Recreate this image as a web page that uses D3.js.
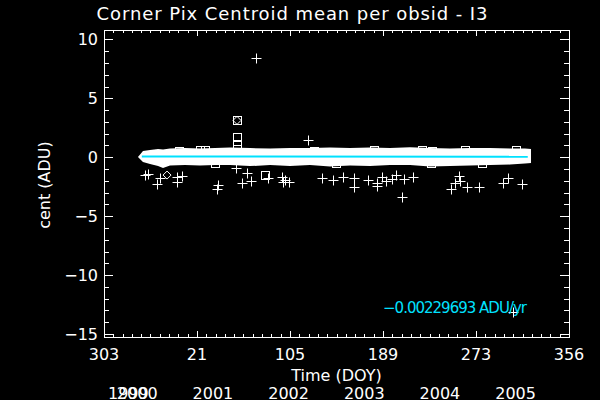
<!DOCTYPE html>
<html>
<head>
<meta charset="utf-8">
<script src="https://cdn.jsdelivr.net/npm/d3@7"></script>
<style>
  body { margin: 0; background: #000; }
  text { font-family: "DejaVu Sans", sans-serif; fill: #fff; }
</style>
</head>
<body>
<div id="chart"></div>
<script>
var width = 600, height = 400;

// axis setup (time in fractional years, labelled as DOY)
var timeDomain = [1999.830, 2005.975];
var centDomain = [-15.25, 10.8];
var doyLabels = ["303", "21", "105", "189", "273", "356"];
var yearLabels = [1999, 2000, 2001, 2002, 2003, 2004, 2005];
var yTickValues = [-15, -10, -5, 0, 5, 10];

// dense band of per-obsid means: upper / lower envelope
var bandTime = [2000.279, 2000.345, 2000.438, 2000.544, 2000.610, 2000.702, 2000.900, 2001.099, 2001.297,
  2001.495, 2001.759, 2002.024, 2002.288, 2002.552, 2002.817, 2003.081, 2003.345, 2003.610, 2003.874,
  2004.138, 2004.402, 2004.667, 2004.931, 2005.195, 2005.393, 2005.473];
var bandHi = [0.02, 0.53, 0.61, 0.70, 0.65, 0.74, 0.78, 0.74, 0.78, 0.82, 0.78, 0.74, 0.78, 0.78, 0.82,
  0.78, 0.82, 0.78, 0.86, 0.78, 0.74, 0.78, 0.78, 0.74, 0.74, 0.70];
var bandLo = [0.02, -0.41, -0.58, -0.75, -0.92, -0.70, -0.66, -0.70, -0.66, -0.66, -0.75, -0.66, -0.75,
  -0.66, -0.79, -0.70, -0.75, -0.66, -0.66, -0.79, -0.75, -0.70, -0.66, -0.62, -0.53, -0.49];

// hollow boxes poking out of the band edges
var edgeTime = [2000.82, 2001.10, 2001.17, 2002.60, 2003.40, 2004.03, 2004.17, 2004.60, 2005.28];
var edgeVal = [0.55, 0.60, 0.62, 0.55, 0.58, 0.62, 0.57, 0.60, 0.58];
var edgeLoTime = [2004.15, 2004.82, 2001.30, 2002.90];
var edgeLoVal = [-0.48, -0.52, -0.50, -0.50];

// outliers drawn as '+'
var plusTime = [2000.372, 2000.411, 2000.570, 2000.530, 2000.795, 2000.861, 2000.800, 2001.337, 2001.323,
  2001.574, 2001.720, 2001.654, 2001.773, 2001.997, 2002.182, 2002.222, 2002.275, 2002.195, 2002.526,
  2002.711, 2002.856, 2002.988, 2003.134, 2003.134, 2003.319, 2003.438, 2003.438, 2003.504, 2003.557,
  2003.636, 2003.689, 2003.795, 2003.914, 2003.768, 2004.416, 2004.469, 2004.522, 2004.535, 2004.627,
  2004.786, 2005.103, 2005.169, 2005.354, 2005.235, 2001.839];
var plusVal = [-1.51, -1.42, -1.76, -2.27, -1.68, -1.59, -2.10, -2.36, -2.70,
  -0.94, -1.34, -2.19, -2.02, -1.76, -1.68, -1.93, -2.10, -2.10, 1.46,
  -1.76, -1.93, -1.68, -1.76, -2.53, -1.93, -2.19, -2.44, -1.68, -2.02,
  -1.85, -1.51, -1.85, -1.68, -3.38, -2.70, -2.19, -1.59, -2.02, -2.53,
  -2.53, -2.19, -1.76, -2.27, -13.13, 8.41];

// boxes and diamonds
var boxTime = [2001.588, 2001.588, 2001.588, 2001.588, 2001.958];
var boxVal = [3.13, 1.69, 1.12, 0.70, -1.51];
var diamondTime = [2000.663, 2001.588];
var diamondVal = [-1.51, 3.13];

// linear fit
var fitStart = 2000.33, fitEnd = 2005.43;
var fitIntercept = 0.065, fitSlope = -0.00229693;

var margin = {left: 104, right: 31, top: 30, bottom: 63};

var svg = d3.select("#chart").append("svg")
  .attr("width", width)
  .attr("height", height)
  .style("background", "#000");

var x = d3.scaleLinear().domain(timeDomain).range([margin.left, width - margin.right]);
var y = d3.scaleLinear().domain(centDomain).range([height - margin.bottom, margin.top]);

var x0 = x.range()[0], x1 = x.range()[1];
var yTop = y.range()[1], yBot = y.range()[0];

// band
var area = d3.area()
  .x(function(d, i) { return x(bandTime[i]); })
  .y0(function(d, i) { return y(bandLo[i]); })
  .y1(function(d, i) { return y(bandHi[i]); });

svg.append("path")
  .datum(bandTime)
  .attr("d", area)
  .attr("fill", "#fff");

var marks = svg.append("g")
  .attr("fill", "none")
  .attr("stroke", "#fff")
  .attr("stroke-width", 1);

function box(t, v) {
  marks.append("rect")
    .attr("x", Math.round(x(t)) - 4 + 0.5)
    .attr("y", Math.round(y(v)) - 4 + 0.5)
    .attr("width", 8).attr("height", 8);
}
edgeTime.forEach(function(t, i) { box(t, edgeVal[i]); });
edgeLoTime.forEach(function(t, i) { box(t, edgeLoVal[i]); });
boxTime.forEach(function(t, i) { box(t, boxVal[i]); });

diamondTime.forEach(function(t, i) {
  var cx = x(t), cy = y(diamondVal[i]);
  marks.append("path")
    .attr("d", "M" + (cx - 4) + "," + cy + "L" + cx + "," + (cy - 4) + "L" + (cx + 4) + "," + cy +
      "L" + cx + "," + (cy + 4) + "Z");
});

plusTime.forEach(function(t, i) {
  var cx = Math.round(x(t)) + 0.5, cy = Math.round(y(plusVal[i])) + 0.5;
  marks.append("path")
    .attr("d", "M" + (cx - 5) + "," + cy + "H" + (cx + 5) + "M" + cx + "," + (cy - 5) + "V" + (cy + 5));
});

// fit line
svg.append("line")
  .attr("x1", x(fitStart)).attr("x2", x(fitEnd))
  .attr("y1", y(fitIntercept + fitSlope * (fitStart - 2000)))
  .attr("y2", y(fitIntercept + fitSlope * (fitEnd - 2000)))
  .attr("stroke", "#00e1ff")
  .attr("stroke-width", 2);

// frame and ticks (IDL style, inward)
var axes = svg.append("g")
  .attr("stroke", "#fff")
  .attr("shape-rendering", "crispEdges");

axes.append("rect")
  .attr("x", x0 + 0.5).attr("y", yTop + 0.5)
  .attr("width", x1 - x0).attr("height", yBot - yTop)
  .attr("fill", "none");

var xMajorLen = 6, xMinorLen = 3, yMajorLen = 9, yMinorLen = 5;
var nMajor = doyLabels.length - 1;
var step = (timeDomain[1] - timeDomain[0]) / nMajor;
var xTicks = d3.range(nMajor + 1).map(function(i) { return timeDomain[0] + i * step; });
var xMinor = d3.range(nMajor * 10 + 1).map(function(i) { return timeDomain[0] + i * step / 10; });

xMinor.forEach(function(t, i) {
  var len = (i % 10 === 0) ? xMajorLen : xMinorLen;
  var px = Math.round(x(t)) + 0.5;
  axes.append("line").attr("x1", px).attr("x2", px).attr("y1", yBot).attr("y2", yBot - len);
  axes.append("line").attr("x1", px).attr("x2", px).attr("y1", yTop).attr("y2", yTop + len);
});

d3.range(-15, 11).forEach(function(v) {
  var len = (v % 5 === 0) ? yMajorLen : yMinorLen;
  var py = Math.round(y(v)) + 0.5;
  axes.append("line").attr("x1", x0).attr("x2", x0 + len).attr("y1", py).attr("y2", py);
  axes.append("line").attr("x1", x1).attr("x2", x1 - len).attr("y1", py).attr("y2", py);
});

// labels
svg.append("text")
  .attr("x", 292).attr("y", 20)
  .attr("text-anchor", "middle")
  .attr("font-size", 18)
  .attr("textLength", 391)
  .text("Corner Pix Centroid mean per obsid - I3");

svg.selectAll(".ylab")
  .data(yTickValues)
  .enter().append("text")
  .attr("x", 98)
  .attr("y", function(d) { return y(d) + 6; })
  .attr("text-anchor", "end")
  .attr("font-size", 16)
  .text(function(d) { return d < 0 ? "\u2212" + Math.abs(d) : d; });

svg.selectAll(".xlab")
  .data(xTicks)
  .enter().append("text")
  .attr("x", function(d) { return x(d); })
  .attr("y", 360)
  .attr("text-anchor", "middle")
  .attr("font-size", 16)
  .text(function(d, i) { return doyLabels[i]; });

svg.append("text")
  .attr("x", (x0 + x1) / 2).attr("y", 381)
  .attr("text-anchor", "middle")
  .attr("font-size", 16)
  .text("Time (DOY)");

svg.selectAll(".year")
  .data(yearLabels)
  .enter().append("text")
  .attr("x", function(d) { return Math.max(x(d), x0 + 4); })
  .attr("y", 399)
  .attr("font-size", 16)
  .text(function(d) { return d; });

svg.append("text")
  .attr("transform", "translate(50,185) rotate(-90)")
  .attr("text-anchor", "middle")
  .attr("font-size", 16)
  .text("cent (ADU)");

svg.append("text")
  .attr("x", 383).attr("y", 313)
  .attr("font-size", 15)
  .attr("textLength", 144)
  .style("fill", "#00e1ff")
  .text("\u22120.00229693 ADU/yr");
</script>
</body>
</html>
